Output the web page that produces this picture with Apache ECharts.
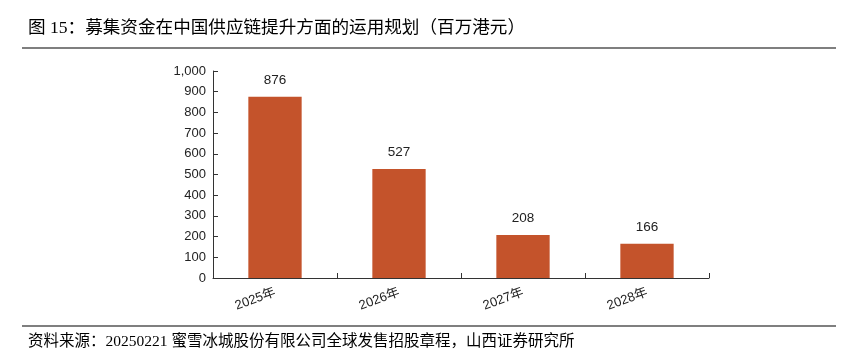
<!DOCTYPE html>
<html>
<head>
<meta charset="utf-8">
<script src="https://cdn.jsdelivr.net/npm/echarts@6/dist/echarts.min.js"></script>
<style>
  html, body { margin: 0; padding: 0; background: #fff; }
  #chart { width: 853px; height: 354px; }
</style>
</head>
<body>
<div id="chart"></div>
<script>
// 数据
const years = ['2025年', '2026年', '2027年', '2028年']
const amounts = [876, 527, 208, 166]
const yTicks = [0, 100, 200, 300, 400, 500, 600, 700, 800, 900, 1000]

const titleText = '图 15：募集资金在中国供应链提升方面的运用规划（百万港元）'
const sourceText = '资料来源：20250221 蜜雪冰城股份有限公司全球发售招股章程，山西证券研究所'

const chart = echarts.init(document.getElementById('chart'))

const serifFont = '"Liberation Serif", "Noto Sans CJK SC", serif'
const sansFont = '"Liberation Sans", Arial, "Noto Sans CJK SC", sans-serif'

const option = {
  animation: false,
  grid: { left: 213, right: 144, top: 71, bottom: 76 },
  graphic: [
    {
      type: 'text', left: 28, top: 20,
      style: { text: titleText, font: '17.6px ' + serifFont, fill: '#000' }
    },
    {
      type: 'line', shape: { x1: 22, y1: 48, x2: 836, y2: 48 },
      style: { stroke: '#555', lineWidth: 1.5 }
    },
    {
      type: 'line', shape: { x1: 22, y1: 326, x2: 836, y2: 326 },
      style: { stroke: '#555', lineWidth: 1.5 }
    },
    {
      type: 'text', left: 28, top: 334,
      style: { text: sourceText, font: '15.5px ' + serifFont, fill: '#000' }
    }
  ],
  xAxis: {
    type: 'category',
    data: years,
    axisLine: { lineStyle: { color: '#333', width: 1 } },
    axisTick: { show: true, inside: true, length: 5, lineStyle: { color: '#333' } },
    axisLabel: {
      rotate: 20, margin: 14, color: '#222', fontSize: 13,
      fontFamily: sansFont
    }
  },
  yAxis: {
    type: 'value',
    min: yTicks[0], max: yTicks[yTicks.length - 1], interval: 100,
    axisLine: { show: true, lineStyle: { color: '#333', width: 1 } },
    axisTick: { show: true, inside: true, length: 5, lineStyle: { color: '#333' } },
    splitLine: { show: false },
    axisLabel: {
      color: '#222', fontSize: 13, margin: 7, fontFamily: sansFont,
      formatter: v => v.toLocaleString('en-US')
    }
  },
  series: [
    {
      type: 'bar',
      data: amounts,
      barWidth: '43%',
      itemStyle: { color: '#C4532B' },
      label: {
        show: true, position: 'top', distance: 10,
        color: '#222', fontSize: 13.5, fontFamily: sansFont
      }
    }
  ]
}
option && chart.setOption(option)
</script>
</body>
</html>
